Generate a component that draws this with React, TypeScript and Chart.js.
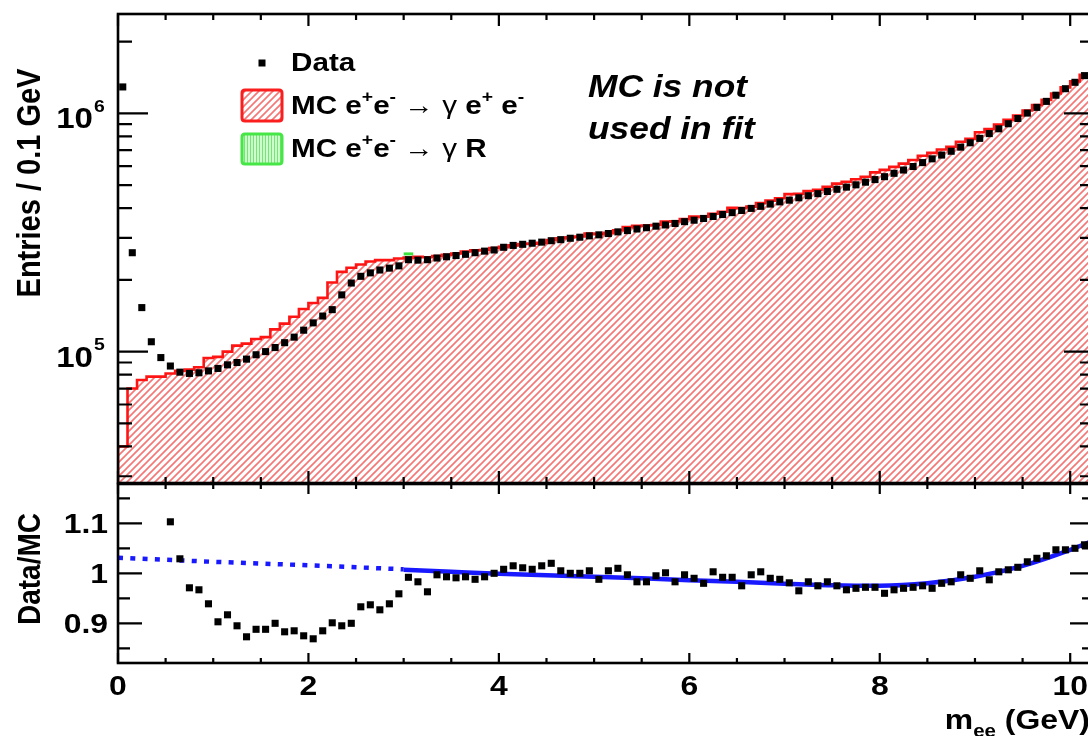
import React, { useEffect, useRef } from 'react';
import { Chart, registerables } from 'chart.js';

Chart.register(...registerables);

// ---------------- data (bins of 0.1 GeV, starting at 0 GeV) ----------------
const BIN_WIDTH = 0.1;

// MC e+e- -> gamma e+e- (red hatched histogram), entries per bin
const mcEntries = [
  1.0e4, 4.0e4, 7.0e4, 7.6e4, 7.85e4, 7.85e4, 8.1e4, 8.3e4, 8.4e4, 8.6e4,
  9.4e4, 9.5e4, 1.0e5, 1.06e5, 1.08e5, 1.13e5, 1.15e5, 1.24e5, 1.31e5, 1.40e5,
  1.51e5, 1.60e5, 1.68e5, 1.95e5, 2.16e5, 2.25e5, 2.32e5, 2.39e5, 2.42e5, 2.42e5,
  2.46e5, 2.48e5, 2.50e5, 2.49e5, 2.52e5, 2.55e5, 2.58e5, 2.63e5, 2.66e5, 2.67e5,
  2.72e5, 2.75e5, 2.79e5, 2.83e5, 2.84e5, 2.86e5, 2.94e5, 2.99e5, 3.02e5, 3.04e5,
  3.13e5, 3.11e5, 3.15e5, 3.23e5, 3.33e5, 3.37e5, 3.38e5, 3.40e5, 3.51e5, 3.52e5,
  3.60e5, 3.69e5, 3.68e5, 3.79e5, 3.86e5, 4.01e5, 4.00e5, 4.06e5, 4.20e5, 4.30e5,
  4.40e5, 4.58e5, 4.59e5, 4.72e5, 4.78e5, 4.92e5, 5.07e5, 5.16e5, 5.29e5, 5.42e5,
  5.65e5, 5.79e5, 5.96e5, 6.15e5, 6.37e5, 6.64e5, 6.82e5, 7.05e5, 7.23e5, 7.60e5,
  7.81e5, 8.33e5, 8.58e5, 8.98e5, 9.40e5, 9.79e5, 1.028e6, 1.084e6, 1.138e6, 1.211e6,
  1.285e6, 1.361e6, 1.451e6,
];

// Data (black squares), entries per bin
const dataEntries = [
  1.29e6, 2.6e5, 1.53e5, 1.10e5, 9.44e4, 8.7e4, 8.2e4, 8.1e4, 8.15e4, 8.3e4,
  8.5e4, 8.8e4, 9.0e4, 9.3e4, 9.7e4, 1.0e5, 1.04e5, 1.09e5, 1.15e5, 1.23e5,
  1.32e5, 1.41e5, 1.50e5, 1.73e5, 1.94e5, 2.07e5, 2.14e5, 2.20e5, 2.24e5, 2.29e5,
  2.43e5, 2.42e5, 2.43e5, 2.47e5, 2.50e5, 2.53e5, 2.56e5, 2.60e5, 2.64e5, 2.67e5,
  2.74e5, 2.79e5, 2.82e5, 2.85e5, 2.88e5, 2.92e5, 2.95e5, 2.99e5, 3.02e5, 3.06e5,
  3.09e5, 3.13e5, 3.18e5, 3.22e5, 3.27e5, 3.31e5, 3.36e5, 3.40e5, 3.45e5, 3.51e5,
  3.56e5, 3.62e5, 3.69e5, 3.76e5, 3.83e5, 3.91e5, 3.99e5, 4.07e5, 4.16e5, 4.25e5,
  4.32e5, 4.42e5, 4.51e5, 4.60e5, 4.70e5, 4.80e5, 4.90e5, 5.01e5, 5.14e5, 5.27e5,
  5.42e5, 5.60e5, 5.78e5, 5.98e5, 6.21e5, 6.44e5, 6.68e5, 6.93e5, 7.21e5, 7.52e5,
  7.85e5, 8.22e5, 8.61e5, 9.04e5, 9.51e5, 1.002e6, 1.059e6, 1.122e6, 1.191e6, 1.268e6,
  1.349e6, 1.439e6, 1.538e6,
];

// Data / MC ratio per bin (null = outside the displayed range)
const ratioValues: (number | null)[] = [
  null, null, null, null, null, 1.103, 1.029, 0.971, 0.967, 0.939,
  0.903, 0.917, 0.895, 0.873, 0.888, 0.888, 0.900, 0.883, 0.885, 0.875,
  0.869, 0.885, 0.901, 0.895, 0.900, 0.933, 0.937, 0.927, 0.939, 0.959,
  0.992, 0.983, 0.963, 0.997, 0.993, 0.991, 0.993, 0.988, 0.993, 1.000,
  1.008, 1.015, 1.011, 1.008, 1.015, 1.020, 1.005, 1.000, 1.000, 1.005,
  0.988, 1.005, 1.010, 0.997, 0.983, 0.983, 0.995, 1.001, 0.983, 0.997,
  0.990, 0.980, 1.003, 0.992, 0.992, 0.975, 0.997, 1.003, 0.990, 0.988,
  0.981, 0.965, 0.983, 0.975, 0.983, 0.975, 0.967, 0.970, 0.972, 0.972,
  0.960, 0.967, 0.970, 0.972, 0.975, 0.970, 0.980, 0.983, 0.997, 0.990,
  1.005, 0.987, 1.003, 1.007, 1.012, 1.023, 1.030, 1.035, 1.047, 1.047,
  1.050, 1.057, 1.060,
];

// MC e+e- -> gamma R (green), stacked on top of the red histogram
const jpsiBinLow = [3.0];
const jpsiStackEntries = [2.57e5];

// Fit to the ratio (solid: fit range, dotted: extrapolation)
const fitX = [3, 3.5, 4, 4.5, 5, 5.5, 6, 6.5, 7, 7.5, 8, 8.5, 9, 9.5, 10, 10.25];
const fitY = [1.007, 1.003, 0.999, 0.996, 0.993, 0.99, 0.986, 0.983, 0.979, 0.976, 0.975, 0.98, 0.993, 1.015, 1.047, 1.066];
const extrapX = [0, 1, 2, 3];
const extrapY = [1.031, 1.023, 1.016, 1.008];

// axes
const X_MIN = 0;
const X_MAX = 10.25;
const X_MINOR_STEP = 0.5;
const X_MAJOR_STEP = 2;
const xTickValues = [0, 2, 4, 6, 8, 10];
const xTickLabels = ['0', '2', '4', '6', '8', '10'];
const TOP_Y_MIN = 2.81e4;
const TOP_Y_MAX = 2.61e6;
const logTickExponents = [5, 6];
const RATIO_MIN = 0.8206;
const RATIO_MAX = 1.1786;
const ratioTickValues = [0.9, 1, 1.1];
const ratioTickLabels = ['0.9', '1', '1.1'];
const RATIO_MINOR_STEP = 0.05;

const yTitleTop = 'Entries / 0.1 GeV';
const yTitleBottom = 'Data/MC';
const legendData = 'Data';
const legendMC1 = [{ t: 'MC e' }, { t: '+', sup: true }, { t: 'e' }, { t: '-', sup: true }, { t: ' \u2192 ' }, { t: '\u03b3', w: 'normal' }, { t: ' e' }, { t: '+', sup: true }, { t: ' e' }, { t: '-', sup: true }];
const legendMC2 = [{ t: 'MC e' }, { t: '+', sup: true }, { t: 'e' }, { t: '-', sup: true }, { t: ' \u2192 ' }, { t: '\u03b3', w: 'normal' }, { t: ' R' }];
const noteLines = ['MC is not', 'used in fit'];
const xTitle = [{ t: 'm' }, { t: 'ee', sub: true }, { t: ' (GeV)' }];

// ---------------- drawing helpers ----------------
const FAMILY = '"Liberation Sans", Arial, Helvetica, sans-serif';
const SX = 1.14; // horizontal stretch of the reference's lettering

type Seg = { t: string; sup?: boolean; sub?: boolean; w?: string };

function drawRich(ctx: CanvasRenderingContext2D, segs: Seg[], x: number, y: number, size: number, align: 'left' | 'right') {
  const fontFor = (s: Seg) => `${s.w ?? 'bold'} ${s.sup || s.sub ? Math.round(size * 0.64) : size}px ${FAMILY}`;
  const widths = segs.map((s) => {
    ctx.font = fontFor(s);
    return ctx.measureText(s.t).width;
  });
  const total = widths.reduce((a, b) => a + b, 0);
  ctx.save();
  ctx.translate(x, y);
  ctx.scale(SX, 1);
  ctx.textAlign = 'left';
  let cx = align === 'right' ? -total : 0;
  segs.forEach((s, i) => {
    ctx.font = fontFor(s);
    const dy = s.sup ? -size * 0.36 : s.sub ? size * 0.28 : 0;
    ctx.fillText(s.t, cx, dy);
    cx += widths[i];
  });
  ctx.restore();
}

function drawText(ctx: CanvasRenderingContext2D, s: string, x: number, y: number, font: string, align: CanvasTextAlign) {
  ctx.save();
  ctx.translate(x, y);
  ctx.scale(SX, 1);
  ctx.font = font;
  ctx.textAlign = align;
  ctx.fillText(s, 0, 0);
  ctx.restore();
}

function drawVertical(ctx: CanvasRenderingContext2D, s: string, x: number, y: number, size: number) {
  ctx.save();
  ctx.translate(x, y);
  ctx.rotate(-Math.PI / 2);
  ctx.scale(1, SX);
  ctx.font = `bold ${size}px ${FAMILY}`;
  ctx.textAlign = 'center';
  ctx.textBaseline = 'middle';
  ctx.fillText(s, 0, 0);
  ctx.restore();
}

function drawXTicks(ctx: CanvasRenderingContext2D, xs: any, area: any, majorLen: number, minorLen: number) {
  ctx.beginPath();
  const n = Math.floor((X_MAX - X_MIN) / X_MINOR_STEP + 1e-9);
  for (let k = 0; k <= n; k++) {
    const v = X_MIN + k * X_MINOR_STEP;
    const px = xs.getPixelForValue(v);
    const r = v / X_MAJOR_STEP;
    const len = Math.abs(r - Math.round(r)) < 1e-6 ? majorLen : minorLen;
    ctx.moveTo(px, area.bottom);
    ctx.lineTo(px, area.bottom - len);
    ctx.moveTo(px, area.top);
    ctx.lineTo(px, area.top + len);
  }
  ctx.stroke();
}

function yTickPair(ctx: CanvasRenderingContext2D, area: any, py: number, len: number) {
  ctx.moveTo(area.left, py);
  ctx.lineTo(area.left + len, py);
  ctx.moveTo(area.right, py);
  ctx.lineTo(area.right - len, py);
}

function makeHatch(color: string, size: number, lw: number) {
  const c = document.createElement('canvas');
  c.width = size;
  c.height = size;
  const g = c.getContext('2d')!;
  g.strokeStyle = color;
  g.lineWidth = lw;
  g.beginPath();
  g.moveTo(0, size);
  g.lineTo(size, 0);
  g.moveTo(-size / 2, size / 2);
  g.lineTo(size / 2, -size / 2);
  g.moveTo(size / 2, size * 1.5);
  g.lineTo(size * 1.5, size / 2);
  g.stroke();
  return g.createPattern(c, 'repeat')!;
}

function makeVStripes() {
  const c = document.createElement('canvas');
  c.width = 3;
  c.height = 3;
  const g = c.getContext('2d')!;
  g.fillStyle = 'rgb(205,252,205)';
  g.fillRect(0, 0, 3, 3);
  g.fillStyle = 'rgb(120,228,120)';
  g.fillRect(1, 0, 1, 3);
  return g.createPattern(c, 'repeat')!;
}

function roundRect(ctx: CanvasRenderingContext2D, x: number, y: number, w: number, h: number, r: number) {
  ctx.beginPath();
  ctx.moveTo(x + r, y);
  ctx.lineTo(x + w - r, y);
  ctx.quadraticCurveTo(x + w, y, x + w, y + r);
  ctx.lineTo(x + w, y + h - r);
  ctx.quadraticCurveTo(x + w, y + h, x + w - r, y + h);
  ctx.lineTo(x + r, y + h);
  ctx.quadraticCurveTo(x, y + h, x, y + h - r);
  ctx.lineTo(x, y + r);
  ctx.quadraticCurveTo(x, y, x + r, y);
  ctx.closePath();
}

export default function App() {
  const topRef = useRef<HTMLCanvasElement>(null);
  const botRef = useRef<HTMLCanvasElement>(null);

  useEffect(() => {
    const hatch = makeHatch('rgb(244,120,120)', 7, 1.7);
    const stripes = makeVStripes();

    const mcPoints = mcEntries.map((v, i) => ({ x: +(i * BIN_WIDTH).toFixed(3), y: v }));
    mcPoints.push({ x: +(mcEntries.length * BIN_WIDTH).toFixed(3), y: mcEntries[mcEntries.length - 1] });
    const dataPoints = dataEntries.map((v, i) => ({ x: +((i + 0.5) * BIN_WIDTH).toFixed(3), y: v }));
    const greenPoints: { x: number; y: number }[] = [];
    jpsiBinLow.forEach((lo, i) => {
      greenPoints.push({ x: lo, y: jpsiStackEntries[i] });
      greenPoints.push({ x: +(lo + BIN_WIDTH).toFixed(3), y: jpsiStackEntries[i] });
    });
    const ratioPoints = ratioValues.map((v, i) => ({ x: +((i + 0.5) * BIN_WIDTH).toFixed(3), y: v }));
    const fitPoints = fitX.map((x, i) => ({ x, y: fitY[i] }));
    const extrapPoints = extrapX.map((x, i) => ({ x, y: extrapY[i] }));

    const topPlugin = {
      id: 'topDecor',
      afterDraw(chart: any) {
        const ctx: CanvasRenderingContext2D = chart.ctx;
        const area = chart.chartArea;
        const xs = chart.scales.x;
        const ys = chart.scales.y;
        ctx.save();
        ctx.strokeStyle = '#000';
        ctx.fillStyle = '#000';
        ctx.lineWidth = 2.2;
        drawXTicks(ctx, xs, area, 12, 6);
        ctx.beginPath();
        for (let e = Math.floor(Math.log10(TOP_Y_MIN)); e <= Math.ceil(Math.log10(TOP_Y_MAX)); e++) {
          for (let m = 1; m <= 9; m++) {
            const v = m * Math.pow(10, e);
            if (v < TOP_Y_MIN || v > TOP_Y_MAX) continue;
            yTickPair(ctx, area, ys.getPixelForValue(v), m === 1 ? 30 : 14);
          }
        }
        ctx.stroke();
        ctx.lineWidth = 2.6;
        ctx.strokeRect(area.left, area.top, area.right - area.left, area.bottom - area.top);

        // y labels 10^n
        ctx.textBaseline = 'middle';
        logTickExponents.forEach((e) => {
          const py = ys.getPixelForValue(Math.pow(10, e));
          drawText(ctx, '10', area.left - 25, py + 7, `bold 29px ${FAMILY}`, 'right');
          drawText(ctx, String(e), area.left - 24, py - 6, `bold 17px ${FAMILY}`, 'left');
        });
        drawVertical(ctx, yTitleTop, 31, 183, 29);

        // legend
        ctx.fillRect(262 - 3.5, 63 - 3.5, 7, 7);
        ctx.textBaseline = 'middle';
        drawText(ctx, legendData, 291, 64, `bold 26px ${FAMILY}`, 'left');
        roundRect(ctx, 242, 90, 40, 31, 3);
        ctx.fillStyle = hatch;
        ctx.fill();
        ctx.strokeStyle = 'rgb(250,30,30)';
        ctx.lineWidth = 3;
        ctx.stroke();
        roundRect(ctx, 242, 134, 40, 30, 3);
        ctx.fillStyle = stripes;
        ctx.fill();
        ctx.strokeStyle = 'rgb(70,230,70)';
        ctx.stroke();
        ctx.fillStyle = '#000';
        drawRich(ctx, legendMC1, 291, 107, 26, 'left');
        drawRich(ctx, legendMC2, 291, 150, 26, 'left');

        // note
        ctx.textBaseline = 'alphabetic';
        drawText(ctx, noteLines[0], 588, 97, `italic bold 31px ${FAMILY}`, 'left');
        drawText(ctx, noteLines[1], 588, 139, `italic bold 31px ${FAMILY}`, 'left');
        ctx.restore();
      },
    };

    const botPlugin = {
      id: 'botDecor',
      afterDraw(chart: any) {
        const ctx: CanvasRenderingContext2D = chart.ctx;
        const area = chart.chartArea;
        const xs = chart.scales.x;
        const ys = chart.scales.y;
        ctx.save();
        ctx.strokeStyle = '#000';
        ctx.fillStyle = '#000';
        ctx.lineWidth = 2.2;
        drawXTicks(ctx, xs, area, 10, 5);
        ctx.beginPath();
        const n0 = Math.ceil(RATIO_MIN / RATIO_MINOR_STEP - 1e-9);
        const n1 = Math.floor(RATIO_MAX / RATIO_MINOR_STEP + 1e-9);
        for (let k = n0; k <= n1; k++) {
          const v = k * RATIO_MINOR_STEP;
          const major = ratioTickValues.some((t) => Math.abs(t - v) < 1e-6);
          yTickPair(ctx, area, ys.getPixelForValue(v), major ? 24 : 12);
        }
        ctx.stroke();
        ctx.lineWidth = 2.6;
        ctx.strokeRect(area.left, area.top, area.right - area.left, area.bottom - area.top);

        ctx.textBaseline = 'middle';
        ratioTickValues.forEach((v, i) => {
          drawText(ctx, ratioTickLabels[i], area.left - 10, ys.getPixelForValue(v) + 2, `bold 28px ${FAMILY}`, 'right');
        });
        xTickValues.forEach((v, i) => {
          drawText(ctx, xTickLabels[i], xs.getPixelForValue(v), area.bottom + 24, `bold 28px ${FAMILY}`, 'center');
        });
        ctx.textBaseline = 'alphabetic';
        drawRich(ctx, xTitle, area.right - 4, area.bottom + 66, 28, 'right');
        drawVertical(ctx, yTitleBottom, 31, 93, 28);
        ctx.restore();
      },
    };

    const common = (padding: any) => ({
      responsive: false,
      maintainAspectRatio: false,
      animation: false as const,
      events: [] as any[],
      layout: { padding },
      plugins: { legend: { display: false }, tooltip: { enabled: false }, title: { display: false } },
    });

    const c1 = new Chart(topRef.current!, {
      type: 'line',
      data: {
        datasets: [
          {
            label: 'Data',
            data: dataPoints,
            showLine: false,
            pointStyle: 'rect',
            pointRadius: 5,
            pointBackgroundColor: '#000',
            pointBorderWidth: 0,
            borderColor: '#000',
            order: 0,
          } as any,
          {
            label: 'MC e+e- -> gamma R',
            data: greenPoints,
            borderColor: 'rgb(60,225,60)',
            borderWidth: 3,
            pointRadius: 0,
            fill: false,
            order: 1,
          },
          {
            label: 'MC e+e- -> gamma e+e-',
            data: mcPoints,
            stepped: 'after',
            borderColor: 'rgb(255,20,20)',
            borderWidth: 2.6,
            pointRadius: 0,
            fill: 'start',
            backgroundColor: hatch,
            order: 2,
          } as any,
        ],
      },
      options: {
        ...common({ left: 118, right: 6, top: 14, bottom: 7 }),
        scales: {
          x: { type: 'linear', min: X_MIN, max: X_MAX, display: false },
          y: { type: 'logarithmic', min: TOP_Y_MIN, max: TOP_Y_MAX, display: false },
        },
      } as any,
      plugins: [topPlugin],
    });

    const c2 = new Chart(botRef.current!, {
      type: 'line',
      data: {
        datasets: [
          {
            label: 'Data/MC',
            data: ratioPoints,
            showLine: false,
            pointStyle: 'rect',
            pointRadius: 5,
            pointBackgroundColor: '#000',
            pointBorderWidth: 0,
            borderColor: '#000',
            order: 0,
          } as any,
          {
            label: 'fit',
            data: fitPoints,
            borderColor: 'rgb(25,25,255)',
            borderWidth: 4.5,
            pointRadius: 0,
            cubicInterpolationMode: 'monotone',
            fill: false,
            order: 1,
          },
          {
            label: 'fit extrapolation',
            data: extrapPoints,
            borderColor: 'rgb(25,25,255)',
            borderWidth: 4.5,
            borderDash: [5, 7.3],
            pointRadius: 0,
            fill: false,
            order: 2,
          },
        ],
      },
      options: {
        ...common({ left: 118, right: 6, top: 8, bottom: 73 }),
        scales: {
          x: { type: 'linear', min: X_MIN, max: X_MAX, display: false },
          y: { type: 'linear', min: RATIO_MIN, max: RATIO_MAX, display: false },
        },
      } as any,
      plugins: [botPlugin],
    });

    return () => {
      c1.destroy();
      c2.destroy();
    };
  }, []);

  return (
    <div style={{ position: 'fixed', left: 0, top: 0, width: 1088, height: 736, overflow: 'hidden', background: '#fff' }}>
      <canvas ref={topRef} width={1100} height={490} style={{ position: 'absolute', left: 0, top: 0, width: 1100, height: 490 }} />
      <canvas ref={botRef} width={1100} height={260} style={{ position: 'absolute', left: 0, top: 476, width: 1100, height: 260 }} />
    </div>
  );
}
